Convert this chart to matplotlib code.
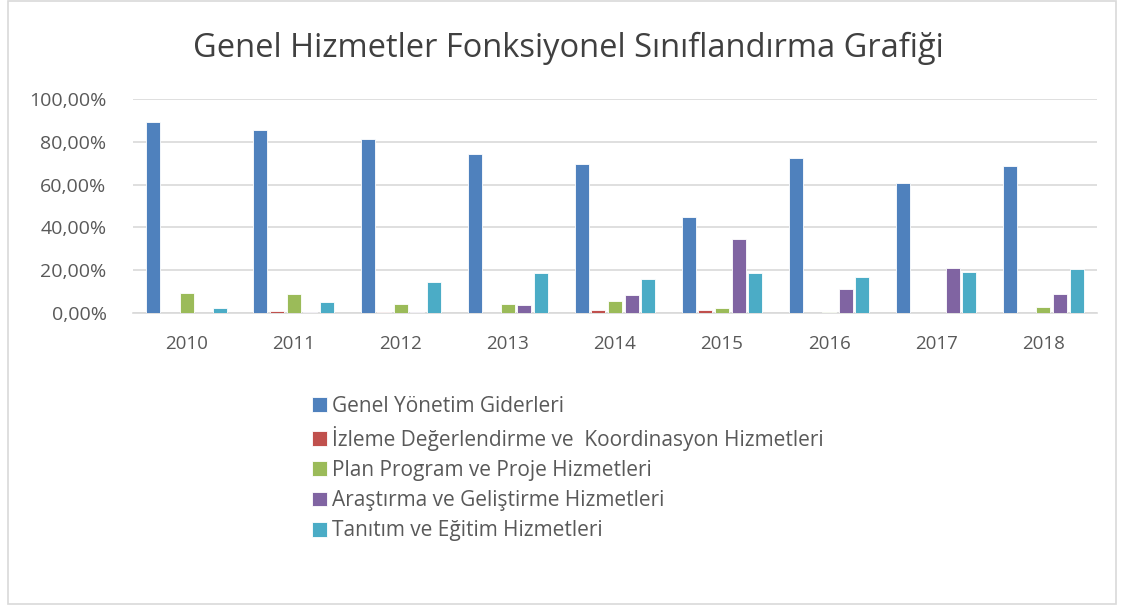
import numpy as np
import matplotlib.pyplot as plt
from matplotlib.patches import Rectangle
from matplotlib.ticker import FuncFormatter

plt.rcParams['font.family'] = ['Open Sans', 'DejaVu Sans']

years = ['2010', '2011', '2012', '2013', '2014', '2015', '2016', '2017', '2018']
series_names = [
    'Genel Yönetim Giderleri',
    'İzleme Değerlendirme ve  Koordinasyon Hizmetleri',
    'Plan Program ve Proje Hizmetleri',
    'Araştırma ve Geliştirme Hizmetleri',
    'Tanıtım ve Eğitim Hizmetleri',
]
genel = [0.893, 0.855, 0.813, 0.743, 0.696, 0.449, 0.724, 0.607, 0.687]
izleme = [0.0, 0.010, 0.005, 0.002, 0.015, 0.015, 0.0, 0.0, 0.0]
plan = [0.093, 0.089, 0.040, 0.040, 0.058, 0.022, 0.003, 0.0, 0.030]
arastirma = [0.0, 0.005, 0.005, 0.038, 0.083, 0.345, 0.110, 0.210, 0.088]
tanitim = [0.023, 0.050, 0.145, 0.185, 0.160, 0.185, 0.168, 0.190, 0.205]
colors = ['#4f81bd', '#c0504d', '#9bbb59', '#8064a2', '#4bacc6']

fig = plt.figure(figsize=(11.32, 6.12), dpi=100)
ax = fig.add_axes([0.1175, 0.4886, 0.8515, 0.3497])

x = np.arange(len(years))
slot = 0.155
all_series = [genel, izleme, plan, arastirma, tanitim]
for k, (vals, c, name) in enumerate(zip(all_series, colors, series_names)):
    ax.bar(x + (k - 2) * slot, vals, width=slot * 0.84, color=c,
           edgecolor='white', linewidth=0.6, label=name, zorder=3)

ax.set_xlim(-0.5, len(years) - 0.5)
ax.set_ylim(0, 1.0)
ax.set_yticks(np.arange(0, 1.01, 0.2))
ax.yaxis.set_major_formatter(FuncFormatter(lambda v, p: f'{v*100:.2f}%'.replace('.', ',')))
ax.set_xticks(x)
ax.set_xticklabels(years)
ax.grid(axis='y', color='#d9d9d9', linewidth=1.2, zorder=0)
for s in ['top', 'right', 'left']:
    ax.spines[s].set_visible(False)
ax.spines['bottom'].set_color('#d9d9d9')
ax.spines['bottom'].set_linewidth(1.2)
ax.tick_params(length=0, colors='#595959')
ax.tick_params(axis='x', labelsize=13.5, pad=16)
ax.tick_params(axis='y', labelsize=14, pad=19)

fig.suptitle('Genel Hizmetler Fonksiyonel Sınıflandırma Grafiği', x=0.502, y=0.948,
             fontsize=23.5, color='#404040')

fig.legend(loc='upper left', bbox_to_anchor=(0.268, 0.367), frameon=False,
           fontsize=15, labelcolor='#595959', handlelength=0.72, handleheight=0.72,
           handletextpad=0.25, labelspacing=0.44, borderaxespad=0)

fig.patches.append(Rectangle((8 / 1132, 8 / 612), 1108 / 1132, 603 / 612,
                             transform=fig.transFigure, fill=False,
                             edgecolor='#d9d9d9', linewidth=1.2))

fig.savefig('out.png', dpi=100)
